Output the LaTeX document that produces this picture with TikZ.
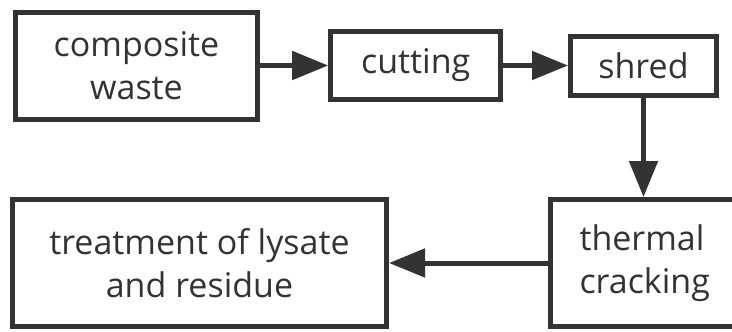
\documentclass[tikz,border=0pt]{standalone}
\usepackage{fontspec}
\setmainfont{Open Sans}
\usetikzlibrary{arrows.meta}
\definecolor{inkgray}{HTML}{333333}

\begin{document}
\begin{tikzpicture}[x=1pt,y=-1pt,
		box/.style={draw=inkgray,line width=5pt,text=inkgray,align=center,inner sep=0pt,
			font=\fontsize{34}{43}\selectfont},
		flow/.style={draw=inkgray,line width=5pt,-{Triangle[length=36pt,width=28pt]}}]
		\useasboundingbox (0,0) rectangle (732,332);
		\clip (0,0) rectangle (732,332);
		\node [box,minimum width=242pt,minimum height=107pt] (waste) at (136.5,65.5) {composite\\waste};
		\node [box,minimum width=170pt,minimum height=68pt] (cutting) at (415.7,65.5) {cutting};
		\node [box,minimum width=146pt,minimum height=59pt] (shred) at (643.5,65.5) {shred};
		\node [box,anchor=west,minimum height=127pt,inner xsep=29pt,text width=142pt,align=left] (cracking) at (548,263) {thermal\\cracking};
		\node [box,minimum width=374pt,minimum height=127pt] (treatment) at (199.5,263) {treatment of lysate\\and residue};
		\draw [flow] (waste.east) -- (cutting.west);
		\draw [flow] (cutting.east) -- (shred.west);
		\draw [flow] (shred.south) -- (shred.south |- cracking.north);
		\draw [flow] (cracking.west) -- (treatment.east);
	\end{tikzpicture}
\end{document}
